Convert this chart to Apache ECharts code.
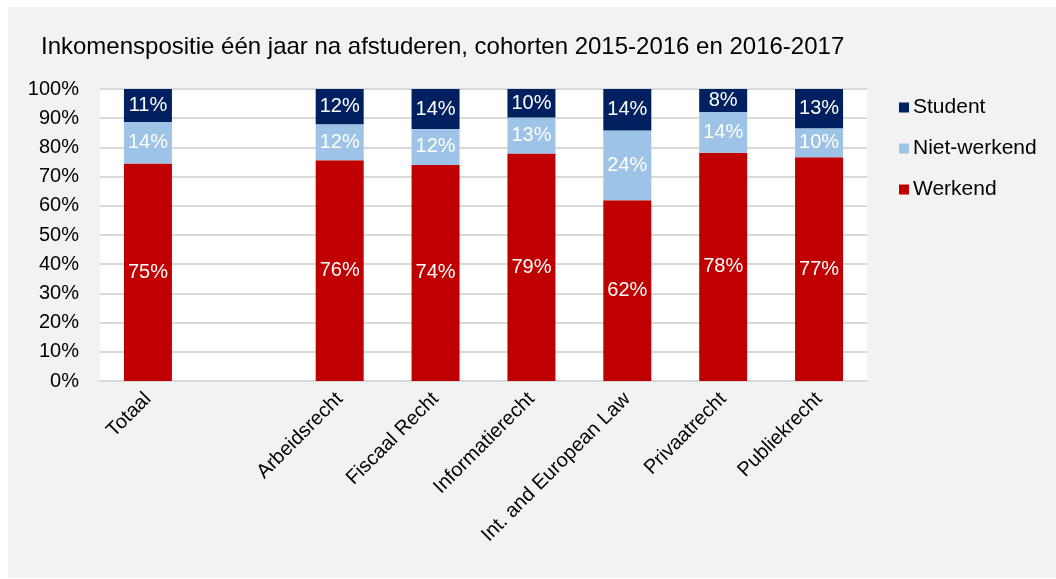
<!DOCTYPE html>
<html>
<head>
	<meta charset="utf-8">
	<title>Inkomenspositie</title>
	<script src="https://cdn.jsdelivr.net/npm/echarts@6/dist/echarts.min.js"></script>
	<style>
		html, body { margin:0; padding:0; background:#ffffff; }
		#chart { width:1056px; height:579px; }
	</style>
</head>
<body>
	<div id="chart"></div>
	<script type="text/javascript">
	// categorieen (lege categorie = ruimte na Totaal)
	var categories = ['Totaal', '', 'Arbeidsrecht', 'Fiscaal Recht', 'Informatierecht', 'Int. and European Law', 'Privaatrecht', 'Publiekrecht'];
	var werkend     = [74.5, null, 75.6, 74.0, 79.2, 61.9, 78.2, 76.6];
	var nietWerkend = [14.2, null, 12.3, 12.3, 12.6, 23.9, 13.9, 10.0];
	var student     = [11.3, null, 12.1, 13.7,  9.9, 14.2,  7.9, 13.4];
	var yTicks = [0, 10, 20, 30, 40, 50, 60, 70, 80, 90, 100];

	// 100% gestapeld: elk segment als aandeel van het totaal
	function share(arr) {
		return arr.map(function (v, i) {
			if (v == null) return '-';
			var sum = werkend[i] + nietWerkend[i] + student[i];
			return { value: v / sum * 100, raw: v };
		});
	}

	var font = 'Liberation Sans, Arial, sans-serif';
	var labelStyle = {
		show: true,
		position: 'inside',
		color: '#ffffff',
		fontFamily: font,
		fontSize: 20,
		formatter: function (p) { return Math.round(p.data.raw) + '%'; }
	};

	var myChart = echarts.init(document.getElementById('chart'));
	myChart.setOption({
		animation: false,
		backgroundColor: '#ffffff',
		graphic: [{
			type: 'rect', z: -10, silent: true,
			shape: { x: 8, y: 7, width: 1048, height: 571 },
			style: { fill: '#f2f2f2' }
		}],
		title: {
			text: 'Inkomenspositie één jaar na afstuderen, cohorten 2015-2016 en 2016-2017',
			left: 36, top: 30,
			textStyle: { fontFamily: font, fontSize: 24, fontWeight: 'normal', color: '#000000' }
		},
		legend: {
			orient: 'vertical',
			left: 894, top: 92,
			itemWidth: 10, itemHeight: 10, itemGap: 20,
			icon: 'rect',
			textStyle: { fontFamily: font, fontSize: 21, color: '#000000', padding: [0, 0, 0, -1] },
			data: ['Student', 'Niet-werkend', 'Werkend']
		},
		grid: { left: 100, right: 189, top: 89, bottom: 198, backgroundColor: '#ffffff', show: true, borderWidth: 0 },
		xAxis: {
			type: 'category',
			data: categories,
			axisTick: { show: false },
			axisLine: { lineStyle: { color: '#d9d9d9', width: 2 } },
			axisLabel: {
				rotate: 45, interval: 0, margin: 15,
				fontFamily: font, fontSize: 20, color: '#000000'
			}
		},
		yAxis: {
			type: 'value',
			min: 0, max: 100, interval: 10,
			axisLine: { show: false },
			axisTick: { show: false },
			splitLine: { lineStyle: { color: '#d9d9d9', width: 2 } },
			axisLabel: {
				margin: 21,
				fontFamily: font, fontSize: 20, color: '#000000',
				formatter: function (v) { return yTicks.indexOf(v) >= 0 ? v + '%' : ''; }
			}
		},
		series: [{
			name: 'Werkend', type: 'bar', stack: 'a', barWidth: 48,
			itemStyle: { color: '#c00000' },
			label: labelStyle,
			data: share(werkend)
		}, {
			name: 'Niet-werkend', type: 'bar', stack: 'a', barWidth: 48,
			itemStyle: { color: '#9dc3e6' },
			label: labelStyle,
			data: share(nietWerkend)
		}, {
			name: 'Student', type: 'bar', stack: 'a', barWidth: 48,
			itemStyle: { color: '#002060' },
			label: labelStyle,
			data: share(student)
		}]
	});
	</script>
</body>
</html>
